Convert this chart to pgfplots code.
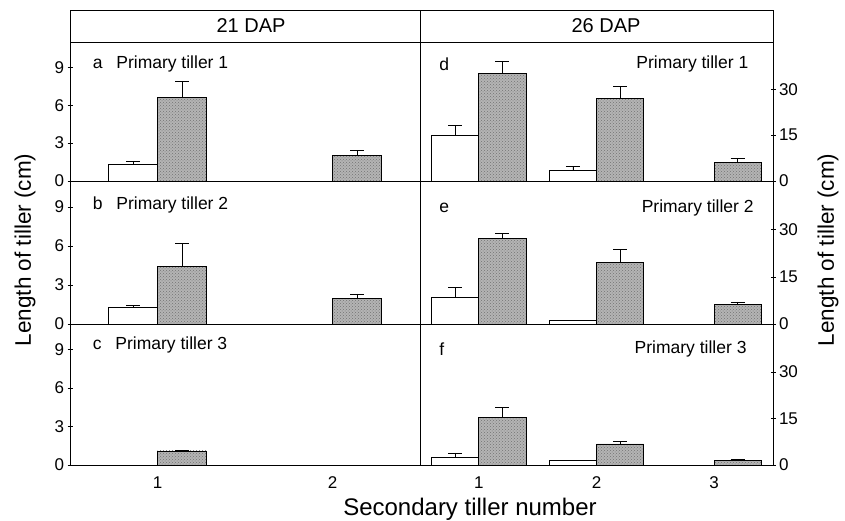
\documentclass[border=0pt]{standalone}
\usepackage{pgfplots}
\pgfplotsset{compat=1.18}
\usepackage{fontspec}
\setmainfont{Liberation Sans}
\usetikzlibrary{patterns}
\definecolor{bargray}{RGB}{180,180,180}
\begin{document}
\begin{tikzpicture}[x=1pt,y=1pt]
\useasboundingbox (0,0) rectangle (845,521);
\tikzset{lab/.style={font=\fontsize{17.5}{21}\selectfont}}
\pgfplotsset{
  panel/.style={scale only axis, anchor=south west, ymin=0,
    axis line style={line width=0.7pt, black},
    every tick/.style={line width=0.7pt, black},
    tick align=center, major tick length=5pt,
    xtick=\empty,
    /pgf/number format/assume math mode=true,
    tick label style={font=\fontsize{17}{19}\selectfont},
  },
  leftp/.style={panel, width=350pt, xmin=0.5, xmax=2.5, ymax=11, ytick={0,3,6,9}, ytick pos=left},
  rightp/.style={panel, width=353pt, xmin=0.5, xmax=3.5, ymax=45.5, ytick={0,15,30}, ytick pos=right, yticklabel pos=right},
  errs/.style={error bars/.cd, y dir=plus, y explicit, error mark options={rotate=90, mark size=7pt, line width=0.7pt, black}, error bar style={line width=0.7pt, black}},
  wbarL/.style={ybar, bar width=0.28, bar shift=0, fill=white, draw=black, line width=0.7pt, errs},
  gbarL/.style={ybar, bar width=0.28, bar shift=0, fill=bargray, draw=black, line width=0.7pt, postaction={pattern=crosshatch dots, pattern color=black!55}, errs},
  wbarR/.style={ybar, bar width=0.4, bar shift=0, fill=white, draw=black, line width=0.7pt, errs},
  gbarR/.style={ybar, bar width=0.4, bar shift=0, fill=bargray, draw=black, line width=0.7pt, postaction={pattern=crosshatch dots, pattern color=black!55}, errs},
}
% header
\draw[line width=0.7pt] (70,479) rectangle (773,511);
\draw[line width=0.7pt] (420,479) -- (420,511);
\node[font=\fontsize{20}{23}\selectfont] at (251,495) {21 DAP};
\node[font=\fontsize{20}{23}\selectfont] at (606,495) {26 DAP};

% panel a (bars at category -0.14 / +0.14)
\begin{axis}[leftp, at={(70pt,340pt)}, height=139pt]
\addplot[wbarL] coordinates {(0.86,1.3) +- (0,0.22)};
\addplot[gbarL] coordinates {(1.14,6.64) +- (0,1.26) (2.14,1.99) +- (0,0.4)};
\node[lab, anchor=west] at (rel axis cs:0.055,0.84) {a\hspace{9pt} Primary tiller 1};
\end{axis}
% panel b
\begin{axis}[leftp, at={(70pt,197pt)}, height=143pt]
\addplot[wbarL] coordinates {(0.86,1.28) +- (0,0.13)};
\addplot[gbarL] coordinates {(1.14,4.42) +- (0,1.8) (2.14,1.98) +- (0,0.33)};
\node[lab, anchor=west] at (rel axis cs:0.055,0.83) {b\hspace{9pt} Primary tiller 2};
\end{axis}
% panel c
\begin{axis}[leftp, at={(70pt,56pt)}, height=141pt, xtick={1,2}, xticklabels={1,2}, x tick style={draw=none}, xticklabel shift=6pt]
\addplot[gbarL] coordinates {(1.14,1.1) +- (0,0.05)};
\node[lab, anchor=west] at (rel axis cs:0.055,0.85) {c\hspace{9pt} Primary tiller 3};
\end{axis}
% panel d (bars at category -0.2 / +0.2)
\begin{axis}[rightp, at={(420pt,340pt)}, height=139pt]
\addplot[wbarR] coordinates {(0.8,14.8) +- (0,3.5) (1.8,3.4) +- (0,1.3)};
\addplot[gbarR] coordinates {(1.2,35.2) +- (0,3.9) (2.2,27.1) +- (0,3.9) (3.2,6.0) +- (0,1.3)};
\node[lab, anchor=west] at (rel axis cs:0.045,0.84) {d};
\node[lab, anchor=east] at (rel axis cs:0.94,0.84) {Primary tiller 1};
\end{axis}
% panel e
\begin{axis}[rightp, at={(420pt,197pt)}, height=143pt]
\addplot[wbarR] coordinates {(0.8,8.4) +- (0,3.3) (1.8,1.25) +- (0,0)};
\addplot[gbarR] coordinates {(1.2,27.2) +- (0,1.5) (2.2,19.7) +- (0,4.0) (3.2,6.2) +- (0,0.8)};
\node[lab, anchor=west] at (rel axis cs:0.045,0.81) {e};
\node[lab, anchor=east] at (rel axis cs:0.955,0.81) {Primary tiller 2};
\end{axis}
% panel f
\begin{axis}[rightp, at={(420pt,56pt)}, height=141pt, xtick={1,2,3}, xticklabels={1,2,3}, x tick style={draw=none}, xticklabel shift=6pt]
\addplot[wbarR] coordinates {(0.8,2.6) +- (0,1.3) (1.8,1.35) +- (0,0.22)};
\addplot[gbarR] coordinates {(1.2,15.4) +- (0,3.3) (2.2,6.8) +- (0,0.8) (3.2,1.6) +- (0,0.2)};
\node[lab, anchor=west] at (rel axis cs:0.045,0.82) {f};
\node[lab, anchor=east] at (rel axis cs:0.935,0.82) {Primary tiller 3};
\end{axis}

% axis labels
\node[rotate=90, font=\fontsize{22.5}{26}\selectfont] at (25,271) {Length of tiller (cm)};
\node[rotate=90, font=\fontsize{22.5}{26}\selectfont] at (828,271) {Length of tiller (cm)};
\node[anchor=base, font=\fontsize{24}{28}\selectfont] at (470,5) {Secondary tiller number};
\end{tikzpicture}
\end{document}
